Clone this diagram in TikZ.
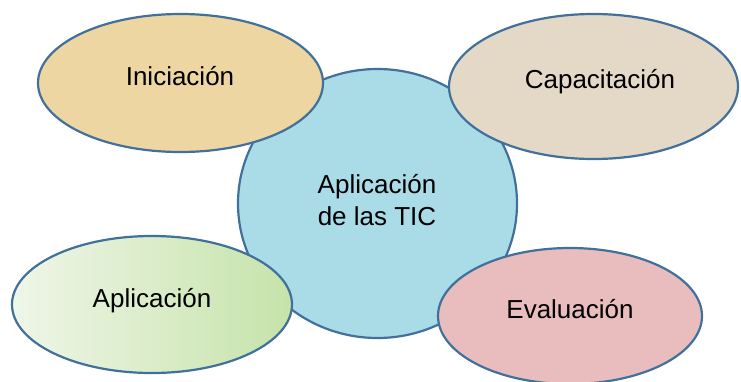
\documentclass[tikz,border=0pt]{standalone}
\usepackage{fontspec}
\setmainfont{Liberation Sans}
\usetikzlibrary{shapes.geometric}
\definecolor{edge}{HTML}{41709C}
\definecolor{iniF}{HTML}{EDD6A2}
\definecolor{capF}{HTML}{E3D9C6}
\definecolor{ticF}{HTML}{A9DCE7}
\definecolor{evaF}{HTML}{E9BDBD}
\definecolor{aplL}{HTML}{EFF6E8}
\definecolor{aplR}{HTML}{C6E3AA}
\tikzset{
  blob/.style={ellipse, draw=edge, line width=2.2pt, inner sep=0pt},
  lbl/.style={anchor=base, inner sep=0pt, font=\fontsize{26}{32}\selectfont}
}
\begin{document}
\begin{tikzpicture}[x=1pt,y=-1pt]
\useasboundingbox (0,0) rectangle (741,381);
\node[blob, fill=ticF, minimum width=279pt, minimum height=269pt] (tic) at (377.5,203.5) {};
\node[blob, fill=iniF, minimum width=285pt, minimum height=138pt] (ini) at (180.5,83) {};
\node[blob, fill=capF, minimum width=289pt, minimum height=145pt] (cap) at (593.5,86.5) {};
\node[blob, left color=aplL, right color=aplR, minimum width=280pt, minimum height=137pt] (apl) at (152,304.5) {};
\node[blob, fill=evaF, minimum width=264pt, minimum height=136pt] (eva) at (570,316) {};
\node[lbl] (tictxt1) at (377,193) {Aplicación};
\node[lbl] (tictxt2) at (377,225) {de las TIC};
\node[lbl] (initxt) at (180,85) {Iniciación};
\node[lbl] (captxt) at (600,88) {Capacitación};
\node[lbl] (apltxt) at (152,307) {Aplicación};
\node[lbl] (evatxt) at (570,318) {Evaluación};
\end{tikzpicture}
\end{document}
